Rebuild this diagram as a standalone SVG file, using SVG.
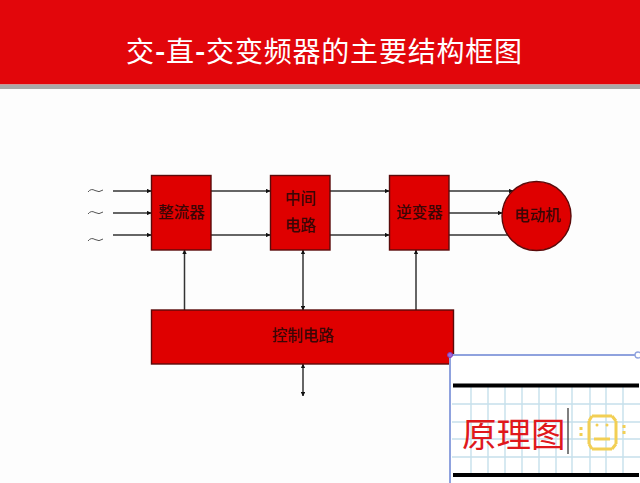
<svg xmlns="http://www.w3.org/2000/svg" width="640" height="483" viewBox="0 0 640 483">
<style>
.box{fill:#df0000;stroke:#5a0a0a;stroke-width:1.4}
.lbl{font-family:"Noto Sans CJK SC","Noto Sans CJK JP",sans-serif;font-size:15.5px;font-weight:500;fill:#3a0606;text-anchor:middle}
.wire{stroke:#333;stroke-width:1.500;fill:none}
.tilde{stroke:#555;stroke-width:1;fill:none}
.grid{stroke:#c6e0ec;stroke-width:1.400;fill:none}
.bar{stroke:#000;stroke-width:4}
.face{stroke:#f2cf55;stroke-width:3;fill:none}
.dot{fill:#f2cf55}
</style>
<defs>
<marker id="a" viewBox="0 0 6 6" refX="5.5" refY="3" markerWidth="3" markerHeight="3" orient="auto-start-reverse"><path d="M0 0L6 3L0 6z" fill="#111"/></marker>
</defs>
<rect width="640" height="483" fill="#fdfdfd"/>
<g id="header">
<rect width="640" height="84.500" fill="#e2060b"/>
<rect y="84.500" width="640" height="4.500" fill="#a9a9a9"/>
<text x="324.500" y="62" font-family="'Noto Sans CJK SC',sans-serif" font-size="28" letter-spacing="0.8" fill="#fff" text-anchor="middle">交<tspan font-weight="700">-</tspan>直<tspan font-weight="700">-</tspan>交变频器的主要结构框图</text>
</g>
<g id="connectors">
<path class="wire" marker-end="url(#a)" d="M113 191H151"/>
<path class="wire" marker-end="url(#a)" d="M113 213H151"/>
<path class="wire" marker-end="url(#a)" d="M113 235H151"/>
<path class="wire" marker-end="url(#a)" d="M211 191H270"/>
<path class="wire" marker-end="url(#a)" d="M211 235H270"/>
<path class="wire" marker-end="url(#a)" d="M330 191H389"/>
<path class="wire" marker-end="url(#a)" d="M330 235H389"/>
<path class="wire" marker-end="url(#a)" d="M449 191H513"/>
<path class="wire" marker-end="url(#a)" d="M449 213H502"/>
<path class="wire" marker-end="url(#a)" d="M449 235H513"/>
<path class="wire" marker-end="url(#a)" d="M184.500 310V250"/>
<path class="wire" marker-start="url(#a)" marker-end="url(#a)" d="M303 250V310"/>
<path class="wire" marker-end="url(#a)" d="M416 310V250"/>
<path class="wire" marker-start="url(#a)" marker-end="url(#a)" d="M303 364V396"/>
<path class="tilde" d="M88 192Q91 188 95 190.500T103 190"/>
<path class="tilde" d="M88 214Q91 210 95 212.500T103 212"/>
<path class="tilde" d="M88 241Q91 237 95 239.500T103 239"/>
</g>
<g id="rectifier"><rect class="box" x="151.500" y="175.500" width="59.500" height="74.500"/><text class="lbl" x="181.500" y="218">整流器</text></g>
<g id="dc-link"><rect class="box" x="270.500" y="175.500" width="59.500" height="74.500"/><text class="lbl" x="300.500" y="204">中间</text><text class="lbl" x="300.500" y="231">电路</text></g>
<g id="inverter"><rect class="box" x="389.500" y="175.500" width="59.500" height="74.500"/><text class="lbl" x="419.500" y="218">逆变器</text></g>
<g id="motor"><circle cx="536.500" cy="216" r="34.500" fill="#df0000" stroke="#5a0a0a" stroke-width="1.400"/><text class="lbl" x="537.500" y="221">电动机</text></g>
<g id="control"><rect class="box" x="151.500" y="310" width="302" height="54"/><text class="lbl" x="303" y="341">控制电路</text></g>
<g id="inset">
<rect x="450" y="355" width="190" height="128" fill="#fff"/>
<path class="grid" d="M471 387V473M488 387V473M505 387V473M522 387V473M539 387V473M556 387V473M572 387V473M590 387V473M606 387V473M623 387V473M452 404H640M452 422H640M452 439H640M452 457H640"/>
<path class="bar" d="M453 385.500H639M453 475H639"/>
<path d="M450 355V483M450 355H636" fill="none" stroke="#8fa2de" stroke-width="2"/>
<circle cx="450" cy="355" r="2.500" fill="#a46ad0" stroke="#7a3fc0"/>
<circle cx="638" cy="355" r="3" fill="#fff" stroke="#8fa2de" stroke-width="1.300"/>
<text x="462" y="447" font-family="'Noto Sans CJK SC',sans-serif" font-size="34.500" fill="#e0181c">原理图</text>
<path d="M568 408V454" stroke="#555" stroke-width="1.500"/>
<path class="face" d="M592 416H612M589 421V444M616 421V444M592 449H612M594 439H610M589 421L592 416M616 421L612 416M589 444L592 449M616 444L612 449"/>
<path class="face" d="M581 427V438M624 425V437" stroke-dasharray="3 3"/>
<circle class="dot" cx="597" cy="425" r="1.500"/><circle class="dot" cx="607" cy="425" r="1.500"/>
</g>
</svg>
